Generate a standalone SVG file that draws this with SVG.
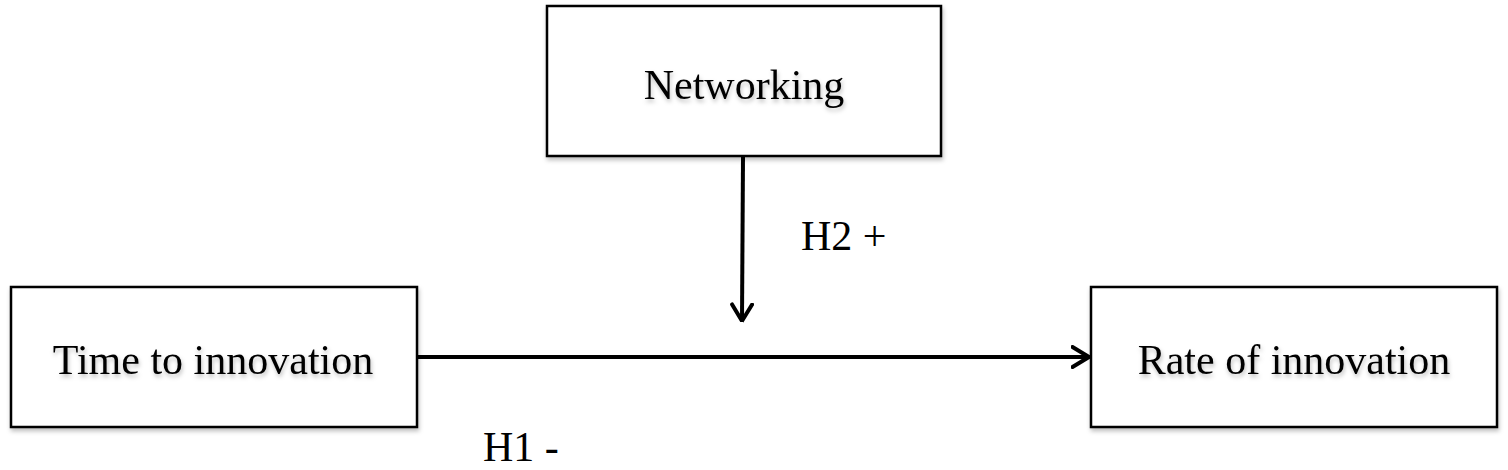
<svg xmlns="http://www.w3.org/2000/svg" width="1508" height="470" viewBox="0 0 1508 470">
<style>
.box{fill:#fff;stroke:#000;stroke-width:2.5}
.lbl{font-family:"Liberation Serif","Times New Roman",serif;font-size:42px;fill:#000}
.edge{stroke:#000;stroke-width:4;fill:none}
</style>
<defs>
<filter id="sh" x="-10%" y="-20%" width="120%" height="150%">
<feDropShadow dx="1" dy="3" stdDeviation="2" flood-color="#000" flood-opacity="0.25"/>
</filter>
<marker id="arr" viewBox="0 0 20 24" refX="18.5" refY="12" markerWidth="20" markerHeight="24" markerUnits="userSpaceOnUse" orient="auto">
<path d="M2,2 L18.5,12 L2,22" fill="none" stroke="#000" stroke-width="4" stroke-linecap="round" stroke-linejoin="round"/>
</marker>
</defs>
<rect width="1508" height="470" fill="#fff"/>
<g id="networking">
<rect class="box" x="547" y="6" width="394" height="150" filter="url(#sh)"/>
<text class="lbl" x="744" y="99" text-anchor="middle" filter="url(#sh)">Networking</text>
</g>
<g id="time">
<rect class="box" x="11" y="287" width="406" height="140" filter="url(#sh)"/>
<text class="lbl" x="213" y="374" text-anchor="middle" filter="url(#sh)">Time to innovation</text>
</g>
<g id="rate">
<rect class="box" x="1091" y="287" width="406" height="140" filter="url(#sh)"/>
<text class="lbl" x="1294" y="374" text-anchor="middle" filter="url(#sh)">Rate of innovation</text>
</g>
<g id="connectors">
<line class="edge" x1="418" y1="357" x2="1089" y2="357" marker-end="url(#arr)"/>
<line class="edge" x1="743" y1="157" x2="742" y2="321" marker-end="url(#arr)"/>
</g>
<g id="labels">
<text class="lbl" x="801" y="250">H2 +</text>
<text class="lbl" x="483" y="461">H1 -</text>
</g>
</svg>
